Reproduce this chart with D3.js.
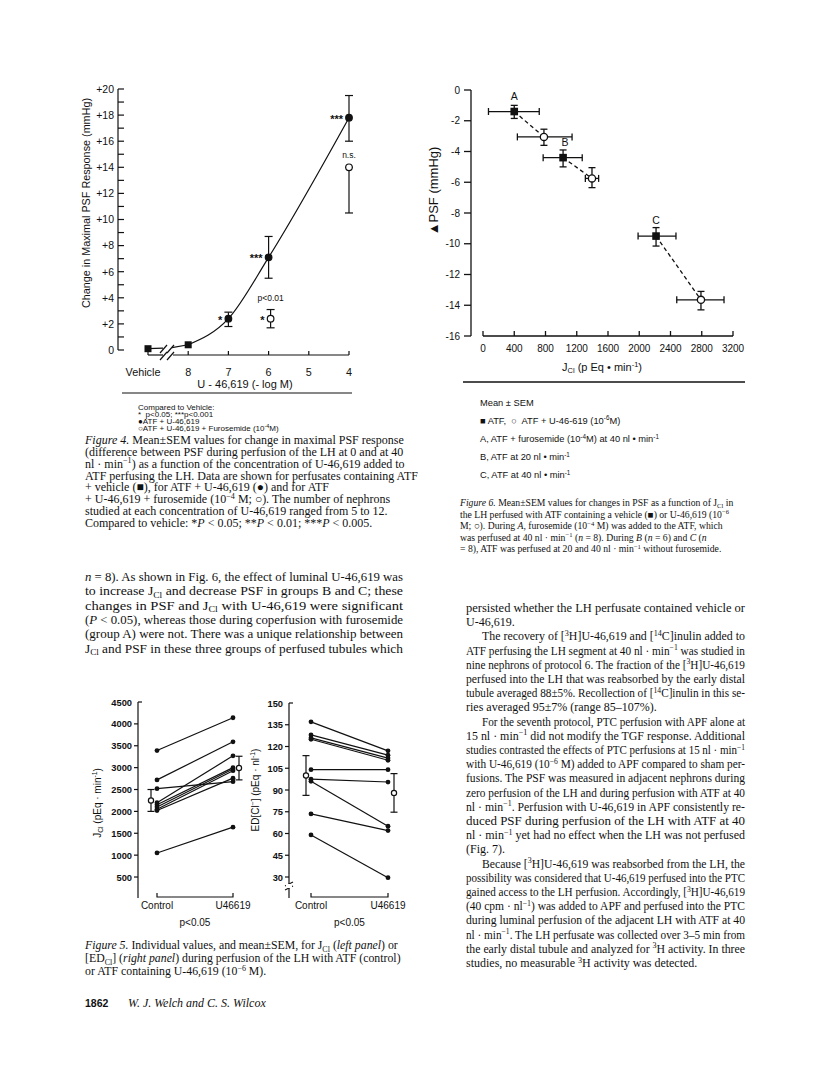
<!DOCTYPE html>
<html>
<head>
<meta charset="utf-8">
<script src="https://cdn.jsdelivr.net/npm/d3@7"></script>
<style>
body { margin: 0; background: #fff; }
svg { display: block; }
text { white-space: pre; }
</style>
</head>
<body>
<div id="page"></div>
<script>
// ---- Figure 4 data ----
var fig4Pos = [9, 8, 7, 6, 5, 4];
var fig4Labels = ["Vehicle", "8", "7", "6", "5", "4"];
var fig4YTicks = [0, 2, 4, 6, 8, 10, 12, 14, 16, 18, 20];
var atfX = [9, 8, 7, 6, 4];
var atfY = [0.1, 0.4, 2.4, 7.1, 17.8];
var atfLo = [null, null, 1.8, 5.5, 16.0];
var atfHi = [null, null, 2.9, 8.7, 19.5];
var atfShape = ["square", "square", "circle", "circle", "circle"];
var atfStars = ["", "", "*", "***", "***"];
var furoX = [6, 4];
var furoY = [2.4, 14.0];
var furoLo = [1.7, 10.5];
var furoHi = [3.1, 14.0];
var furoStars = ["*", ""];
var furoNotes = ["p<0.01", "n.s."];

// ---- Figure 6 data ----
var fig6XTicks = [0, 400, 800, 1200, 1600, 2000, 2400, 2800, 3200];
var fig6YTicks = [0, -2, -4, -6, -8, -10, -12, -14, -16];
var groups = ["A", "B", "C"];
var vehJ = [400, 1025, 2215];
var vehJLo = [70, 770, 1985];
var vehJHi = [720, 1270, 2470];
var vehPSF = [-1.4, -4.4, -9.5];
var vehPSFLo = [-1.85, -5.0, -10.15];
var vehPSFHi = [-1.0, -3.9, -8.95];
var uJ = [780, 1395, 2790];
var uJLo = [440, 1310, 2480];
var uJHi = [1140, 1480, 3085];
var uPSF = [-3.05, -5.75, -13.65];
var uPSFLo = [-3.6, -6.35, -14.3];
var uPSFHi = [-2.55, -5.05, -13.1];

// ---- Figure 5 data ----
var conds = ["Control", "U46619"];
var jclTicks = [500, 1000, 1500, 2000, 2500, 3000, 3500, 4000, 4500];
var jclControl = [3390, 2720, 2520, 2200, 2150, 2100, 2050, 2020, 1050];
var jclU = [4140, 3590, 2680, 3270, 3000, 2970, 2930, 2760, 1640];
var jclMean = [2250, 2990];
var jclSem = [250, 270];
var edTicks = [30, 45, 60, 75, 90, 105, 120, 135, 150];
var edControl = [137, 128, 126, 125, 104, 97.5, 96, 73.5, 59];
var edU = [117, 114, 112, 110.5, 104, 95.5, 65, 62, 29.5];
var edMean = [100, 88];
var edSem = [13.7, 13.3];

// ---- page text ----
var fig4Legend = [
  "Compared to Vehicle:",
  "*  p<0.05; ***p<0.001",
  "\u25CFATF + U-46,619",
  "\u25CBATF + U-46,619 + Furosemide (10^{-4}M)"
];
var fig4Caption = [
  "/{Figure 4.} Mean\u00B1SEM values for change in maximal PSF response",
  "(difference between PSF during perfusion of the LH at 0 and at 40",
  "nl \u00B7 min^{\u22121}) as a function of the concentration of U-46,619 added to",
  "ATF perfusing the LH. Data are shown for perfusates containing ATF",
  "+ vehicle (\u25A0), for ATF + U-46,619 (\u25CF) and for ATF",
  "+ U-46,619 + furosemide (10^{\u22124} M; \u25CB). The number of nephrons",
  "studied at each concentration of U-46,619 ranged from 5 to 12.",
  "Compared to vehicle: */{P} < 0.05; **/{P} < 0.01; ***/{P} < 0.005."
];
var fig6Legend = [
  "Mean \u00B1 SEM",
  "\u25A0 ATF,  \u25CB  ATF + U-46-619 (10^{-6}M)",
  "A, ATF + furosemide (10^{-4}M) at 40 nl \u2022 min^{-1}",
  "B, ATF at 20 nl \u2022 min^{-1}",
  "C, ATF at 40 nl \u2022 min^{-1}"
];
var fig6Caption = [
  "/{Figure 6.} Mean\u00B1SEM values for changes in PSF as a function of J_{Cl} in",
  "the LH perfused with ATF containing a vehicle (\u25A0) or U-46,619 (10^{\u22126}",
  "M; \u25CB). During /{A}, furosemide (10^{\u22124} M) was added to the ATF, which",
  "was perfused at 40 nl \u00B7 min^{\u22121} (/{n} = 8). During /{B} (/{n} = 6) and /{C} (/{n}",
  "= 8), ATF was perfused at 20 and 40 nl \u00B7 min^{\u22121} without furosemide."
];
var fig5Caption = [
  "/{Figure 5.} Individual values, and mean\u00B1SEM, for J_{Cl} (/{left panel}) or",
  "[ED_{Cl}] (/{right panel}) during perfusion of the LH with ATF (control)",
  "or ATF containing U-46,619 (10^{\u22126} M)."
];
var leftBody = [
  "/{n} = 8). As shown in Fig. 6, the effect of luminal U-46,619 was",
  "to increase J_{Cl} and decrease PSF in groups B and C; these",
  "changes in PSF and J_{Cl} with U-46,619 were significant",
  "(/{P} < 0.05), whereas those during coperfusion with furosemide",
  "(group A) were not. There was a unique relationship between",
  "J_{Cl} and PSF in these three groups of perfused tubules which"
];
var rightBody = [
  "persisted whether the LH perfusate contained vehicle or",
  "U-46,619.",
  "The recovery of [^{3}H]U-46,619 and [^{14}C]inulin added to",
  "ATF perfusing the LH segment at 40 nl \u00B7 min^{\u22121} was studied in",
  "nine nephrons of protocol 6. The fraction of the [^{3}H]U-46,619",
  "perfused into the LH that was reabsorbed by the early distal",
  "tubule averaged 88\u00B15%. Recollection of [^{14}C]inulin in this se-",
  "ries averaged 95\u00B17% (range 85\u2013107%).",
  "For the seventh protocol, PTC perfusion with APF alone at",
  "15 nl \u00B7 min^{\u22121} did not modify the TGF response. Additional",
  "studies contrasted the effects of PTC perfusions at 15 nl \u00B7 min^{\u22121}",
  "with U-46,619 (10^{\u22126} M) added to APF compared to sham per-",
  "fusions. The PSF was measured in adjacent nephrons during",
  "zero perfusion of the LH and during perfusion with ATF at 40",
  "nl \u00B7 min^{\u22121}. Perfusion with U-46,619 in APF consistently re-",
  "duced PSF during perfusion of the LH with ATF at 40",
  "nl \u00B7 min^{\u22121} yet had no effect when the LH was not perfused",
  "(Fig. 7).",
  "Because [^{3}H]U-46,619 was reabsorbed from the LH, the",
  "possibility was considered that U-46,619 perfused into the PTC",
  "gained access to the LH perfusion. Accordingly, [^{3}H]U-46,619",
  "(40 cpm \u00B7 nl^{\u22121}) was added to APF and perfused into the PTC",
  "during luminal perfusion of the adjacent LH with ATF at 40",
  "nl \u00B7 min^{\u22121}. The LH perfusate was collected over 3\u20135 min from",
  "the early distal tubule and analyzed for ^{3}H activity. In three",
  "studies, no measurable ^{3}H activity was detected."
];
var rightParaEnd = [1, 7, 17, 25];
var rightIndent = [2, 8, 18];

var SANS = "'Liberation Sans', Arial, sans-serif";
var SERIF = "'Liberation Serif', 'Times New Roman', serif";

var svg = d3.select("#page").append("svg")
    .attr("width", 816)
    .attr("height", 1076);

// markup: ^{sup} _{sub} /{italic}
function rich(sel, str, size) {
    var re = /([\^_\/])\{([^}]*)\}/g;
    var last = 0, m, shift = 0;
    function add(t, kind) {
        var ts = sel.append("tspan").text(t);
        var target = kind === "^" ? -0.36 * size : (kind === "_" ? 0.22 * size : 0);
        var dy = target - shift;
        shift = target;
        if (dy) ts.attr("dy", dy);
        if (kind === "^" || kind === "_") ts.attr("font-size", size * 0.68);
        if (kind === "/") ts.attr("font-style", "italic");
    }
    while ((m = re.exec(str))) {
        if (m.index > last) add(str.slice(last, m.index), "n");
        add(m[2], m[1]);
        last = re.lastIndex;
    }
    if (last < str.length) add(str.slice(last), "n");
    return sel;
}

function textLine(g, str, x, y, opts) {
    var t = g.append("text")
        .attr("x", x)
        .attr("y", y)
        .attr("font-family", opts.family)
        .attr("font-size", opts.size)
        .attr("fill", "#111");
    if (opts.anchor) t.attr("text-anchor", opts.anchor);
    if (opts.weight) t.attr("font-weight", opts.weight);
    if (opts.rotate) t.attr("transform", "rotate(-90," + x + "," + y + ")");
    rich(t, str, opts.size);
    if (opts.width) t.attr("textLength", opts.width).attr("lengthAdjust", "spacingAndGlyphs");
    return t;
}

function errBar(g, x, y1, y2, cap, vertical) {
    if (vertical) {
        g.append("line").attr("x1", x).attr("x2", x).attr("y1", y1).attr("y2", y2);
        g.append("line").attr("x1", x - cap).attr("x2", x + cap).attr("y1", y1).attr("y2", y1);
        g.append("line").attr("x1", x - cap).attr("x2", x + cap).attr("y1", y2).attr("y2", y2);
    } else {
        g.append("line").attr("y1", x).attr("y2", x).attr("x1", y1).attr("x2", y2);
        g.append("line").attr("y1", x - cap).attr("y2", x + cap).attr("x1", y1).attr("x2", y1);
        g.append("line").attr("y1", x - cap).attr("y2", x + cap).attr("x1", y2).attr("x2", y2);
    }
}

// ================= Figure 4 =================
var f4 = svg.append("g").attr("stroke", "#111").attr("stroke-width", 1.2);
var x4 = d3.scaleLinear().domain([9, 4]).range([148, 349]);
var y4 = d3.scaleLinear().domain([0, 20]).range([350, 89]);

// y axis with inward ticks every unit
f4.append("line").attr("x1", 118).attr("x2", 118).attr("y1", y4(20)).attr("y2", y4(0));
f4.selectAll(".t4").data(d3.range(0, 21)).enter().append("line")
    .attr("x1", 118).attr("x2", 124)
    .attr("y1", function (d) { return y4(d); })
    .attr("y2", function (d) { return y4(d); });
fig4YTicks.forEach(function (v) {
    textLine(svg, v === 0 ? "0" : "+" + v, 114, y4(v) + 3.8,
        { family: SANS, size: 10.5, anchor: "end" });
});
textLine(svg, "Change in Maximal PSF Response (mmHg)", 90, 203,
    { family: SANS, size: 10.8, anchor: "middle", rotate: true });

// x axis with break
var ax4 = 355;
f4.append("line").attr("x1", x4(9)).attr("x2", 163).attr("y1", ax4).attr("y2", ax4);
f4.append("line").attr("x1", 173).attr("x2", x4(4)).attr("y1", ax4).attr("y2", ax4);
fig4Pos.forEach(function (p, i) {
    f4.append("line").attr("x1", x4(p)).attr("x2", x4(p)).attr("y1", ax4).attr("y2", ax4 - 4);
    textLine(svg, fig4Labels[i], x4(p) - (i === 0 ? 5 : 0), 376,
        { family: SANS, size: 10.8, anchor: "middle" });
});
[[163, ax4 + 1], [170, ax4 + 1], [163, 349], [170, 349]].forEach(function (b) {
    f4.append("line").attr("x1", b[0] - 3).attr("y1", b[1] + 4).attr("x2", b[0] + 4).attr("y2", b[1] - 4);
});
textLine(svg, "U - 46,619 (- log M)", 245, 388, { family: SANS, size: 11, anchor: "middle" });
svg.append("line").attr("x1", 122).attr("x2", 352).attr("y1", 393).attr("y2", 393)
    .attr("stroke", "#111").attr("stroke-width", 1.2);

// ATF + U line
f4.append("line").attr("x1", x4(9)).attr("x2", 163).attr("y1", y4(atfY[0])).attr("y2", y4(atfY[0]) - 0.6);
f4.append("line").attr("x1", 172).attr("x2", x4(8)).attr("y1", y4(atfY[0]) - 1).attr("y2", y4(atfY[1]));
var line4 = d3.line().x(function (d) { return x4(d[0]); }).y(function (d) { return y4(d[1]); })
    .curve(d3.curveMonotoneX);
f4.append("path").attr("fill", "none")
    .attr("d", line4(atfX.slice(1).map(function (v, i) { return [v, atfY[i + 1]]; })));

atfX.forEach(function (v, i) {
    var cx = x4(v), cy = y4(atfY[i]);
    if (atfLo[i] !== null) errBar(f4, cx, y4(atfLo[i]), y4(atfHi[i]), 4, true);
    if (atfShape[i] === "square") {
        f4.append("rect").attr("x", cx - 3.5).attr("y", cy - 3.5).attr("width", 7).attr("height", 7)
            .attr("fill", "#111").attr("stroke", "none");
    } else {
        f4.append("circle").attr("cx", cx).attr("cy", cy).attr("r", 3.3).attr("fill", "#111");
    }
    if (atfStars[i]) textLine(svg, atfStars[i], cx - 6, cy + 5,
        { family: SANS, size: 11, anchor: "end", weight: "bold" });
});
furoX.forEach(function (v, i) {
    var cx = x4(v) + (i === 0 ? 2 : 0), cy = y4(furoY[i]);
    errBar(f4, cx, y4(furoLo[i]), y4(furoHi[i]), 4, true);
    f4.append("circle").attr("cx", cx).attr("cy", cy).attr("r", 3.3).attr("fill", "#fff");
    if (furoStars[i]) textLine(svg, furoStars[i], cx - 6, cy + 5,
        { family: SANS, size: 11, anchor: "end", weight: "bold" });
    textLine(svg, furoNotes[i], cx, y4(furoHi[i]) - 9,
        { family: SANS, size: 8.5, anchor: "middle" });
});

fig4Legend.forEach(function (s, i) {
    textLine(svg, s, 138, 410 + i * 7, { family: SANS, size: 8 });
});
fig4Caption.forEach(function (s, i) {
    textLine(svg, s, 85, 444 + i * 11.85, { family: SERIF, size: 12 });
});

// ================= Figure 6 =================
var f6 = svg.append("g").attr("stroke", "#111").attr("stroke-width", 1.3);
var x6 = d3.scaleLinear().domain([0, 3200]).range([483, 733]);
var y6 = d3.scaleLinear().domain([0, -16]).range([90, 336]);

f6.append("line").attr("x1", 471).attr("x2", 471).attr("y1", y6(0)).attr("y2", y6(-16));
fig6YTicks.forEach(function (v) {
    f6.append("line").attr("x1", 464).attr("x2", 471).attr("y1", y6(v)).attr("y2", y6(v));
    textLine(svg, String(v), 460, y6(v) + 3.6, { family: SANS, size: 10, anchor: "end" });
});
f6.append("line").attr("x1", x6(0)).attr("x2", x6(3200)).attr("y1", 336).attr("y2", 336);
fig6XTicks.forEach(function (v) {
    f6.append("line").attr("x1", x6(v)).attr("x2", x6(v)).attr("y1", 336).attr("y2", 331);
    textLine(svg, String(v), x6(v), 352, { family: SANS, size: 10, anchor: "middle" });
});
textLine(svg, "J_{Cl} (p Eq \u2022 min^{-1})", 602, 371, { family: SANS, size: 11, anchor: "middle" });
textLine(svg, "\u25B2PSF (mmHg)", 438, 191, { family: SANS, size: 13, anchor: "middle", rotate: true });

groups.forEach(function (gname, i) {
    f6.append("line")
        .attr("x1", x6(vehJ[i])).attr("y1", y6(vehPSF[i]))
        .attr("x2", x6(uJ[i])).attr("y2", y6(uPSF[i]))
        .attr("stroke-dasharray", "4,3");
    errBar(f6, y6(vehPSF[i]), x6(vehJLo[i]), x6(vehJHi[i]), 3.5, false);
    errBar(f6, x6(vehJ[i]), y6(vehPSFLo[i]), y6(vehPSFHi[i]), 3.5, true);
    errBar(f6, y6(uPSF[i]), x6(uJLo[i]), x6(uJHi[i]), 3.5, false);
    errBar(f6, x6(uJ[i]), y6(uPSFLo[i]), y6(uPSFHi[i]), 3.5, true);
    f6.append("rect").attr("x", x6(vehJ[i]) - 3.8).attr("y", y6(vehPSF[i]) - 3.8)
        .attr("width", 7.6).attr("height", 7.6).attr("fill", "#111").attr("stroke", "none");
    f6.append("circle").attr("cx", x6(uJ[i])).attr("cy", y6(uPSF[i])).attr("r", 3.6).attr("fill", "#fff");
    textLine(svg, gname, x6(vehJ[i]) + (i === 1 ? 2 : 0), y6(vehPSF[i]) - 12,
        { family: SANS, size: 10.5, anchor: "middle" });
});
svg.append("line").attr("x1", 463).attr("x2", 745).attr("y1", 382).attr("y2", 382)
    .attr("stroke", "#111").attr("stroke-width", 1.3);
fig6Legend.forEach(function (s, i) {
    textLine(svg, s, 480, 405.5 + i * 18.2, { family: SANS, size: 9.3 });
});
fig6Caption.forEach(function (s, i) {
    textLine(svg, s, 460, 506 + i * 11.5, { family: SERIF, size: 9.7 });
});

// ================= Figure 5 =================
function panel5(axisX, yDomain, yRange, ticks, ctrl, uu, mean, sem, xs, meanOff, label, labelX, labelY, brk) {
    var g = svg.append("g").attr("stroke", "#111").attr("stroke-width", 1.2);
    var y = d3.scaleLinear().domain(yDomain).range(yRange);
    var x = d3.scalePoint().domain(conds).range(xs);
    g.append("line").attr("x1", axisX).attr("x2", axisX).attr("y1", y(ticks[ticks.length - 1])).attr("y2", 898);
    ticks.forEach(function (v, i) {
        var top = i === ticks.length - 1;
        g.append("line").attr("x1", top ? axisX : axisX - 4).attr("x2", top ? axisX + 4 : axisX)
            .attr("y1", y(v)).attr("y2", y(v));
        textLine(svg, String(v), axisX - 6, y(v) + 3.5,
            { family: SANS, size: 9.3, anchor: "end", weight: "bold" });
    });
    if (brk) {
        svg.append("rect").attr("x", axisX - 3).attr("y", 884).attr("width", 6).attr("height", 4).attr("fill", "#fff");
        [884, 888].forEach(function (b) {
            g.append("line").attr("x1", axisX - 4).attr("x2", axisX + 4).attr("y1", b + 2).attr("y2", b - 2);
        });
    }
    // bracket
    g.append("path").attr("fill", "none")
        .attr("d", "M" + x(conds[0]) + ",893V897H" + x(conds[1]) + "V893");
    conds.forEach(function (c) {
        textLine(svg, c, x(c), 909, { family: SANS, size: 10, anchor: "middle" });
    });
    textLine(svg, "p<0.05", (x(conds[0]) + x(conds[1])) / 2, 926, { family: SANS, size: 10, anchor: "middle" });
    ctrl.forEach(function (v, i) {
        g.append("line").attr("x1", x(conds[0])).attr("y1", y(v)).attr("x2", x(conds[1])).attr("y2", y(uu[i]));
    });
    ctrl.forEach(function (v, i) {
        g.append("circle").attr("cx", x(conds[0])).attr("cy", y(v)).attr("r", 2.4).attr("fill", "#111").attr("stroke", "none");
        g.append("circle").attr("cx", x(conds[1])).attr("cy", y(uu[i])).attr("r", 2.4).attr("fill", "#111").attr("stroke", "none");
    });
    conds.forEach(function (c, i) {
        var cx = x(c) + meanOff[i];
        errBar(g, cx, y(mean[i] - sem[i]), y(mean[i] + sem[i]), 3.5, true);
        g.append("circle").attr("cx", cx).attr("cy", y(mean[i])).attr("r", 2.6).attr("fill", "#fff");
    });
    textLine(svg, label, labelX, labelY, { family: SANS, size: 10, anchor: "middle", rotate: true });
}
panel5(138, [0, 4500], [898.9, 702], jclTicks, jclControl, jclU, jclMean, jclSem,
    [157, 233], [-6, 6], "J_{Cl} (pEq \u00B7 min^{-1})", 101, 803, false);
panel5(289, [30, 150], [877, 703], edTicks, edControl, edU, edMean, edSem,
    [311, 388], [-5, 6], "ED[Cl^{\u2212}] (pEq \u00B7 nl^{-1})", 259, 790, true);

fig5Caption.forEach(function (s, i) {
    textLine(svg, s, 85, 949 + i * 13, { family: SERIF, size: 11.8 });
});

// ================= body text =================
leftBody.forEach(function (s, i) {
    textLine(svg, s, 85, 581 + i * 14.3, { family: SERIF, size: 12, width: 318 });
});
rightBody.forEach(function (s, i) {
    var ind = rightIndent.indexOf(i) >= 0 ? 16 : 0;
    var opts = { family: SERIF, size: 12 };
    if (rightParaEnd.indexOf(i) < 0) opts.width = 279 - ind;
    textLine(svg, s, 466 + ind, 612 + i * 14.2, opts);
});

// footer
textLine(svg, "1862", 85, 1007, { family: SANS, size: 10.5, weight: "bold" });
textLine(svg, "W. J. Welch and C. S. Wilcox", 128, 1007, { family: SERIF, size: 12 }).attr("font-style", "italic");
</script>
</body>
</html>
